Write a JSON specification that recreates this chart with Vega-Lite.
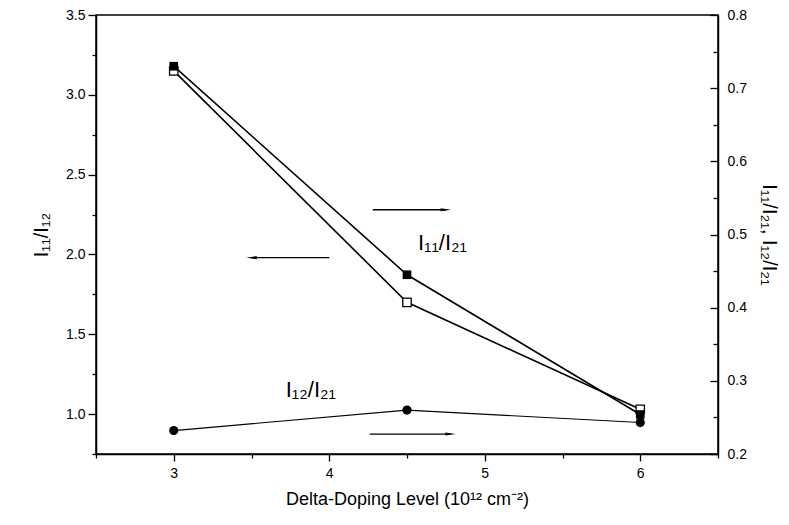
{
  "$schema": "https://vega.github.io/schema/vega-lite/v6.json",
  "width": 622,
  "height": 439,
  "autosize": {"type": "none"},
  "padding": {"left": 96, "top": 15, "right": 71, "bottom": 71},
  "background": "white",
  "config": {
    "font": "Liberation Sans",
    "view": {"stroke": "black", "strokeWidth": 1.5},
    "axis": {
      "grid": false,
      "domainColor": "black",
      "domainWidth": 1.5,
      "tickColor": "black",
      "tickWidth": 1.3,
      "labelColor": "black",
      "titleColor": "black",
      "labelFont": "Liberation Sans",
      "titleFont": "Liberation Sans",
      "labelFontSize": 14,
      "titleFontSize": 20,
      "titleFontWeight": "normal"
    }
  },
  "datasets": {
    "left": [
      {"x": 3, "v": 3.15, "s": "I11/I12"},
      {"x": 4.5, "v": 1.70, "s": "I11/I12"},
      {"x": 6, "v": 1.03, "s": "I11/I12"}
    ],
    "right": [
      {"x": 3, "v": 0.730, "s": "I11/I21"},
      {"x": 4.5, "v": 0.445, "s": "I11/I21"},
      {"x": 6, "v": 0.254, "s": "I11/I21"},
      {"x": 3, "v": 0.232, "s": "I12/I21"},
      {"x": 4.5, "v": 0.260, "s": "I12/I21"},
      {"x": 6, "v": 0.243, "s": "I12/I21"}
    ],
    "arrows": [
      {"x": 4.28, "xe": 4.75, "v": 2.28, "dir": "right"},
      {"x": 4.0, "xe": 3.5, "v": 1.98, "dir": "left"},
      {"x": 4.26, "xe": 4.78, "v": 0.875, "dir": "right"}
    ],
    "labels": [
      {"x": 4.57, "v": 2.03, "t": "I₁₁/I₂₁"},
      {"x": 3.72, "v": 1.106, "t": "I₁₂/I₂₁"}
    ]
  },
  "encoding": {
    "x": {
      "field": "x",
      "type": "quantitative",
      "scale": {"domain": [2.5, 6.5], "nice": false, "zero": false},
      "axis": {
        "values": [2.5, 3, 3.5, 4, 4.5, 5, 5.5, 6, 6.5],
        "labelExpr": "datum.value % 1 === 0 ? format(datum.value, 'd') : ''",
        "tickSize": {"condition": {"test": "datum.value % 1 === 0", "value": 7}, "value": 4},
        "labelPadding": 5,
        "title": "Delta-Doping Level (10¹² cm⁻²)",
        "titleFontSize": 18,
        "titlePadding": 10
      }
    }
  },
  "layer": [
    {
      "encoding": {
        "y": {
          "field": "v",
          "type": "quantitative",
          "scale": {"domain": [0.75, 3.5], "nice": false, "zero": false},
          "axis": {
            "orient": "left",
            "values": [0.75, 1, 1.25, 1.5, 1.75, 2, 2.25, 2.5, 2.75, 3, 3.25, 3.5],
            "labelExpr": "(datum.value * 2) % 1 === 0 ? format(datum.value, '.1f') : ''",
            "tickSize": {"condition": {"test": "(datum.value * 2) % 1 === 0", "value": 8}, "value": 4},
            "labelPadding": 3,
            "title": "I₁₁/I₁₂",
            "titlePadding": 14
          }
        }
      },
      "layer": [
        {
          "data": {"name": "left"},
          "mark": {"type": "line", "color": "black", "strokeWidth": 1.6},
          "encoding": {}
        },
        {
          "data": {"name": "left"},
          "mark": {"type": "point", "shape": "square", "size": 70, "filled": false, "fill": "white", "fillOpacity": 1, "stroke": "black", "strokeWidth": 1.3, "opacity": 1},
          "encoding": {}
        },
        {
          "data": {"name": "arrows"},
          "mark": {"type": "rule", "color": "black", "strokeWidth": 1.3},
          "encoding": {"x2": {"field": "xe"}}
        },
        {
          "data": {"name": "arrows"},
          "mark": {"type": "point", "filled": true, "color": "black", "opacity": 1, "size": 110},
          "encoding": {
            "x": {"field": "xe", "type": "quantitative"},
            "shape": {
              "field": "dir",
              "type": "nominal",
              "scale": {"domain": ["right", "left"], "range": ["M -1 -0.3 L 1 0 L -1 0.3 Z", "M 1 -0.3 L -1 0 L 1 0.3 Z"]},
              "legend": null
            }
          }
        },
        {
          "data": {"name": "labels"},
          "mark": {"type": "text", "align": "left", "baseline": "alphabetic", "fontSize": 22, "color": "black", "font": "Liberation Sans"},
          "encoding": {"text": {"field": "t"}}
        }
      ]
    },
    {
      "data": {"name": "right"},
      "encoding": {
        "y": {
          "field": "v",
          "type": "quantitative",
          "scale": {"domain": [0.2, 0.8], "nice": false, "zero": false},
          "axis": {
            "orient": "right",
            "values": [0.2, 0.25, 0.3, 0.35, 0.4, 0.45, 0.5, 0.55, 0.6, 0.65, 0.7, 0.75, 0.8],
            "labelExpr": "abs(datum.value * 10 - round(datum.value * 10)) < 0.001 ? format(datum.value, '.1f') : ''",
            "tickSize": {"condition": {"test": "abs(datum.value * 10 - round(datum.value * 10)) < 0.001", "value": -8}, "value": -5},
            "labelPadding": 17,
            "title": "I₁₁/I₂₁, I₁₂/I₂₁",
            "titleAngle": 90,
            "titlePadding": 12
          }
        }
      },
      "layer": [
        {
          "transform": [{"filter": "datum.s === 'I11/I21'"}],
          "mark": {"type": "line", "color": "black", "strokeWidth": 1.6},
          "encoding": {}
        },
        {
          "transform": [{"filter": "datum.s === 'I12/I21'"}],
          "mark": {"type": "line", "color": "black", "strokeWidth": 1.1},
          "encoding": {}
        },
        {
          "transform": [{"filter": "datum.s === 'I11/I21'"}],
          "mark": {"type": "point", "shape": "square", "size": 75, "filled": true, "color": "black", "opacity": 1},
          "encoding": {}
        },
        {
          "transform": [{"filter": "datum.s === 'I12/I21'"}],
          "mark": {"type": "point", "shape": "circle", "size": 85, "filled": true, "color": "black", "opacity": 1},
          "encoding": {}
        }
      ]
    }
  ],
  "resolve": {"scale": {"y": "independent"}}
}
